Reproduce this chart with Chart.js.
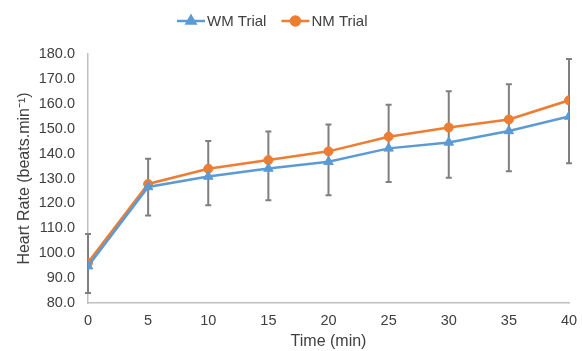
<!DOCTYPE html>
<html>
<head>
<meta charset="utf-8">
<script src="https://cdn.jsdelivr.net/npm/chart.js@4"></script>
<style>
  html, body { margin: 0; padding: 0; background: #fff; }
  #wrap { width: 582px; height: 351px; }
</style>
</head>
<body>
<div id="wrap"><canvas id="grafico" width="582" height="351"></canvas></div>
<script>
// dados
const tempos = [0, 5, 10, 15, 20, 25, 30, 35, 40];
const wmTrial = [94.8, 126.6, 130.8, 134.0, 136.7, 142.1, 144.5, 149.1, 154.9];
const nmTrial = [96.2, 127.8, 133.9, 137.4, 140.9, 146.8, 150.5, 153.7, 161.4];
// barras de erro (limite superior / inferior)
const erroTopo = [107.7, 137.9, 145.1, 148.9, 151.7, 159.6, 165.0, 167.9, 178.0];
const erroBase = [84.0, 115.1, 119.3, 121.3, 123.3, 128.6, 130.3, 132.9, 136.1];
const nomes = ['WM Trial', 'NM Trial'];
const cores = ['#5B9BD5', '#ED7D31'];

const fonte = '"Liberation Sans", Arial, sans-serif';

const barrasErro = {
  id: 'barrasErro',
  beforeDatasetsDraw(chart) {
    const c = chart.ctx, x = chart.scales.x, y = chart.scales.y;
    c.save();
    c.strokeStyle = '#7f7f7f';
    c.lineWidth = 2;
    tempos.forEach((t, i) => {
      const px = x.getPixelForValue(t);
      const y1 = y.getPixelForValue(erroTopo[i]);
      const y2 = y.getPixelForValue(erroBase[i]);
      c.beginPath();
      c.moveTo(px, y1); c.lineTo(px, y2);
      c.moveTo(px - 3, y1); c.lineTo(px + 3, y1);
      c.moveTo(px - 3, y2); c.lineTo(px + 3, y2);
      c.stroke();
    });
    c.restore();
  }
};

// legenda com linha + marcador
const legenda = {
  id: 'legenda',
  afterDraw(chart) {
    const c = chart.ctx;
    c.save();
    c.font = '15px ' + fonte;
    c.textBaseline = 'middle';
    let x = 177;
    const yy = 21;
    chart.data.datasets.forEach((ds, i) => {
      c.strokeStyle = ds.borderColor;
      c.fillStyle = ds.borderColor;
      c.lineWidth = 2.5;
      c.beginPath(); c.moveTo(x, yy); c.lineTo(x + 28, yy); c.stroke();
      Chart.helpers.drawPoint(c, { pointStyle: ds.pointStyle, radius: i === 0 ? 5 : 4.5, borderWidth: 1 }, x + 14, yy);
      c.fillStyle = '#404040';
      c.textAlign = 'left';
      c.fillText(ds.label, x + 30, yy + 1);
      x += 30 + c.measureText(ds.label).width + 15;
    });
    c.restore();
  }
};

const ctx = document.getElementById('grafico').getContext('2d');
new Chart(ctx, {
  type: 'line',
  data: {
    datasets: [wmTrial, nmTrial].map((serie, i) => ({
      label: nomes[i],
      data: serie.map((v, j) => ({ x: tempos[j], y: v })),
      borderColor: cores[i],
      backgroundColor: cores[i],
      borderWidth: 2.5,
      pointStyle: i === 0 ? 'triangle' : 'circle',
      pointRadius: i === 0 ? 5.5 : 4.5,
      pointBorderWidth: 1,
      tension: 0
    }))
  },
  options: {
    responsive: false,
    animation: false,
    layout: { padding: { top: 54, right: 13, left: 0, bottom: 0 } },
    plugins: { legend: { display: false }, tooltip: { enabled: false } },
    scales: {
      x: {
        type: 'linear',
        min: 0, max: 40,
        afterFit(s) { s.height = 48; },
        grid: { display: false, drawTicks: true, tickLength: 5, tickColor: '#bfbfbf' },
        border: { color: '#bfbfbf', width: 1.5 },
        ticks: { stepSize: 5, color: '#404040', font: { family: fonte, size: 14.5 }, padding: 4 },
        title: { display: true, text: 'Time (min)', color: '#404040', font: { family: fonte, size: 16 }, padding: { top: 0, bottom: 0 } }
      },
      y: {
        min: 80, max: 180,
        afterFit(s) { s.width = 88; },
        grid: { display: false, drawTicks: false },
        border: { color: '#bfbfbf', width: 1.5 },
        ticks: { stepSize: 10, color: '#404040', font: { family: fonte, size: 14.5 }, padding: 13,
          callback: v => v.toFixed(1) },
        title: { display: true, text: 'Heart Rate (beats.min⁻¹)', color: '#404040', font: { family: fonte, size: 16 }, padding: { top: 15, bottom: 0 } }
      }
    }
  },
  plugins: [barrasErro, legenda]
});
</script>
</body>
</html>
